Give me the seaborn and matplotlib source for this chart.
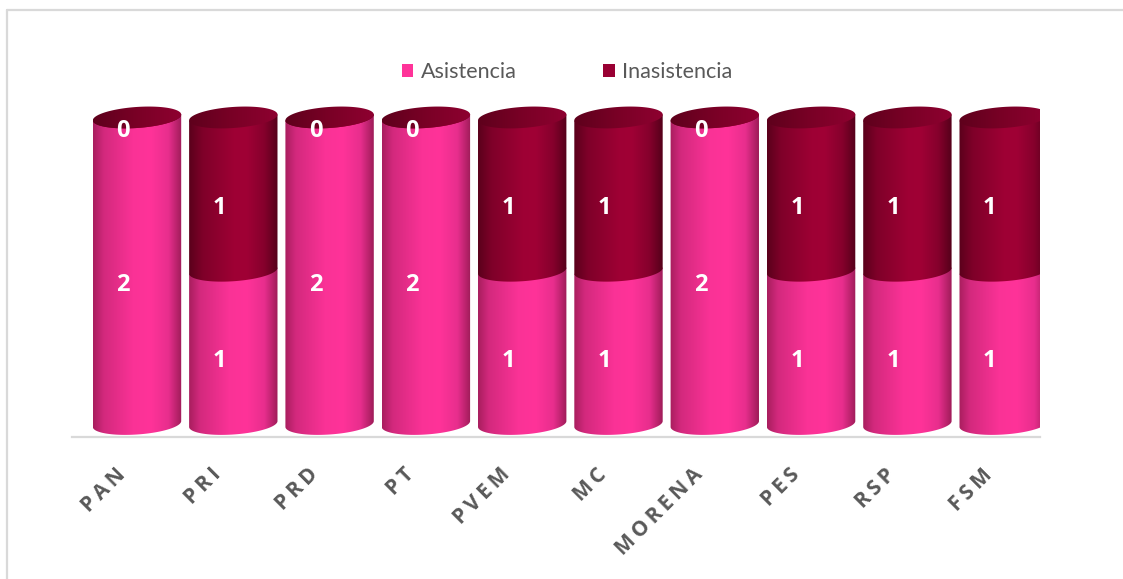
import numpy as np
import pandas as pd
import matplotlib
matplotlib.use("Agg")
import matplotlib.pyplot as plt
import seaborn as sns
from matplotlib.path import Path
from matplotlib.patches import PathPatch, Patch
from matplotlib.colors import LinearSegmentedColormap
import matplotlib.transforms as mtransforms
from matplotlib.lines import Line2D

# ---------------- data ----------------
partidos = ["PAN", "PRI", "PRD", "PT", "PVEM", "MC", "MORENA", "PES", "RSP", "FSM"]
asistencia = [2, 1, 2, 2, 1, 1, 2, 1, 1, 1]
inasistencia = [0, 1, 0, 0, 1, 1, 0, 1, 1, 1]
series = ["Asistencia", "Inasistencia"]
colores = ["#FF3399", "#990033"]

# ---------------- style ----------------
sns.set_theme(style="white")
plt.rcParams["font.family"] = ["Open Sans", "DejaVu Sans"]

W_PX, H_PX = 1123, 579
fig = plt.figure(figsize=(W_PX / 100, H_PX / 100), dpi=100)
fig.patch.set_facecolor("white")
ax = fig.add_axes([72 / W_PX, (H_PX - 437) / H_PX, (1040 - 72) / W_PX, (437 - 100) / H_PX])

df = pd.DataFrame({"Partido": partidos, "Asistencia": asistencia, "Inasistencia": inasistencia})
W = 0.92
sns.barplot(data=df, x="Partido", y="Asistencia", order=partidos, color=colores[0],
            width=W, saturation=1, errorbar=None, ax=ax)
sns.barplot(data=df, x="Partido", y="Inasistencia", order=partidos, color=colores[1],
            width=W, saturation=1, errorbar=None, ax=ax,
            bottom=np.array(asistencia, dtype=float))

XLIM = (-0.675, 9.377)
YLIM = (-0.085, 2.114)
ax.set_xlim(*XLIM)
ax.set_ylim(*YLIM)
# pixels per data unit
SX = (1040 - 72) / (XLIM[1] - XLIM[0])
SY = (437 - 100) / (YLIM[1] - YLIM[0])
RY_PX = 10.5
THETA = np.deg2rad(4.0)

cmap_pink = LinearSegmentedColormap.from_list(
    "pink", [(0, "#A81E5E"), (0.12, "#D3297D"), (0.45, "#FA3296"), (0.65, "#FF3399"),
             (0.85, "#E82E8D"), (1, "#9E1C58")])
cmap_dark = LinearSegmentedColormap.from_list(
    "dark", [(0, "#5A001B"), (0.15, "#7E0029"), (0.5, "#9E0034"), (0.65, "#A00035"),
             (0.85, "#85002C"), (1, "#55001A")])
cmap_cap = LinearSegmentedColormap.from_list(
    "cap", [(0, "#5E001C"), (0.5, "#7A0026"), (1, "#8E0030")])
grad = np.linspace(0, 1, 256).reshape(1, -1)


def ell_pts(xc, yc, w, t):
    a = w * SX / 2
    ex = a * np.cos(t)
    ey = RY_PX * np.sin(t)
    rx = ex * np.cos(THETA) - ey * np.sin(THETA)
    ryy = ex * np.sin(THETA) + ey * np.cos(THETA)
    return xc + rx / SX, yc + ryy / SY


def cyl_path(x0, w, yb, yt):
    xc = x0 + w / 2
    t = np.linspace(np.pi, 2 * np.pi, 90)
    xs, ys = ell_pts(xc, yb, w, t)
    xl, yl = ell_pts(xc, yt, w, np.array([np.pi]))
    xr, yr = ell_pts(xc, yt, w, np.array([0.0]))
    verts = [(xl[0], yl[0])] + list(zip(xs, ys)) + [(xr[0], yr[0]), (xl[0], yl[0])]
    return Path(verts, closed=True)


def cap_path(xc, yc, w):
    t = np.linspace(0, 2 * np.pi, 120)
    xs, ys = ell_pts(xc, yc, w, t)
    return Path(list(zip(xs, ys)), closed=True)


def gradient_fill(path, extent, cmap, z):
    patch = PathPatch(path, transform=ax.transData, facecolor="none", edgecolor="none")
    ax.add_patch(patch)
    im = ax.imshow(grad, extent=extent, aspect="auto", cmap=cmap, origin="lower",
                   interpolation="bicubic", zorder=z)
    im.set_clip_path(patch)


conts = list(ax.containers)
for c in conts:
    for p in c.patches:
        p.set_visible(False)

pad = 0.15
cmaps = [cmap_pink, cmap_dark]
for si, c in enumerate(conts):
    for p in c.patches:
        x0, w = p.get_x(), p.get_width()
        yb, h = p.get_y(), p.get_height()
        yt = yb + h
        gradient_fill(cyl_path(x0, w, yb, yt), [x0, x0 + w, yb - pad, yt + pad], cmaps[si], 2 + si)

# top caps
for p in conts[1].patches:
    x0, w = p.get_x(), p.get_width()
    top = p.get_y() + p.get_height()
    gradient_fill(cap_path(x0 + w / 2, top, w), [x0, x0 + w, top - pad, top + pad], cmap_cap, 4)

# data labels
for si, c in enumerate(conts):
    vals = [asistencia, inasistencia][si]
    for i, p in enumerate(c.patches):
        xc = p.get_x() + p.get_width() / 2
        ymid = p.get_y() + p.get_height() / 2
        ax.text(xc - 0.145, ymid - 0.09, str(vals[i]), color="white", fontsize=17,
                fontweight="bold", ha="center", va="center", zorder=6)

# ---------------- axes ----------------
ax.set_xlim(*XLIM)
ax.set_ylim(*YLIM)
ax.set_xlabel("")
ax.set_ylabel("")
ax.set_yticks([])
for s in ["left", "right", "top"]:
    ax.spines[s].set_visible(False)
ax.spines["bottom"].set_color("#D9D9D9")
ax.spines["bottom"].set_linewidth(1.6)
ax.set_xticks(range(len(partidos)))
ax.set_xticklabels(["\u2009".join(list(p)) for p in partidos], rotation=45, ha="right",
                   va="center", rotation_mode="anchor", fontsize=15, fontweight="bold",
                   color="#595959")
ax.tick_params(axis="x", length=0, pad=25)
offset = mtransforms.ScaledTranslation(-15 / 100, 0, fig.dpi_scale_trans)
for lab in ax.get_xticklabels():
    lab.set_transform(lab.get_transform() + offset)

# legend
handles = [Patch(facecolor=colores[0], edgecolor="none"), Patch(facecolor=colores[1], edgecolor="none")]
leg = fig.legend(handles, series, loc="center", bbox_to_anchor=(567 / W_PX, 1 - 72 / H_PX),
                 ncol=2, frameon=False, handlelength=0.55, handleheight=0.55,
                 handletextpad=0.35, columnspacing=4.0, prop={"family": "Lato", "size": 15.5})
for t in leg.get_texts():
    t.set_color("#595959")

# chart frame
fig.add_artist(Line2D([6.5 / W_PX, 6.5 / W_PX], [0, 1 - 9.5 / H_PX], transform=fig.transFigure,
                      color="#D9D9D9", lw=1.6))
fig.add_artist(Line2D([6.5 / W_PX, 1], [1 - 9.5 / H_PX, 1 - 9.5 / H_PX], transform=fig.transFigure,
                      color="#D9D9D9", lw=1.6))

fig.savefig("out.png", dpi=100, facecolor="white")
